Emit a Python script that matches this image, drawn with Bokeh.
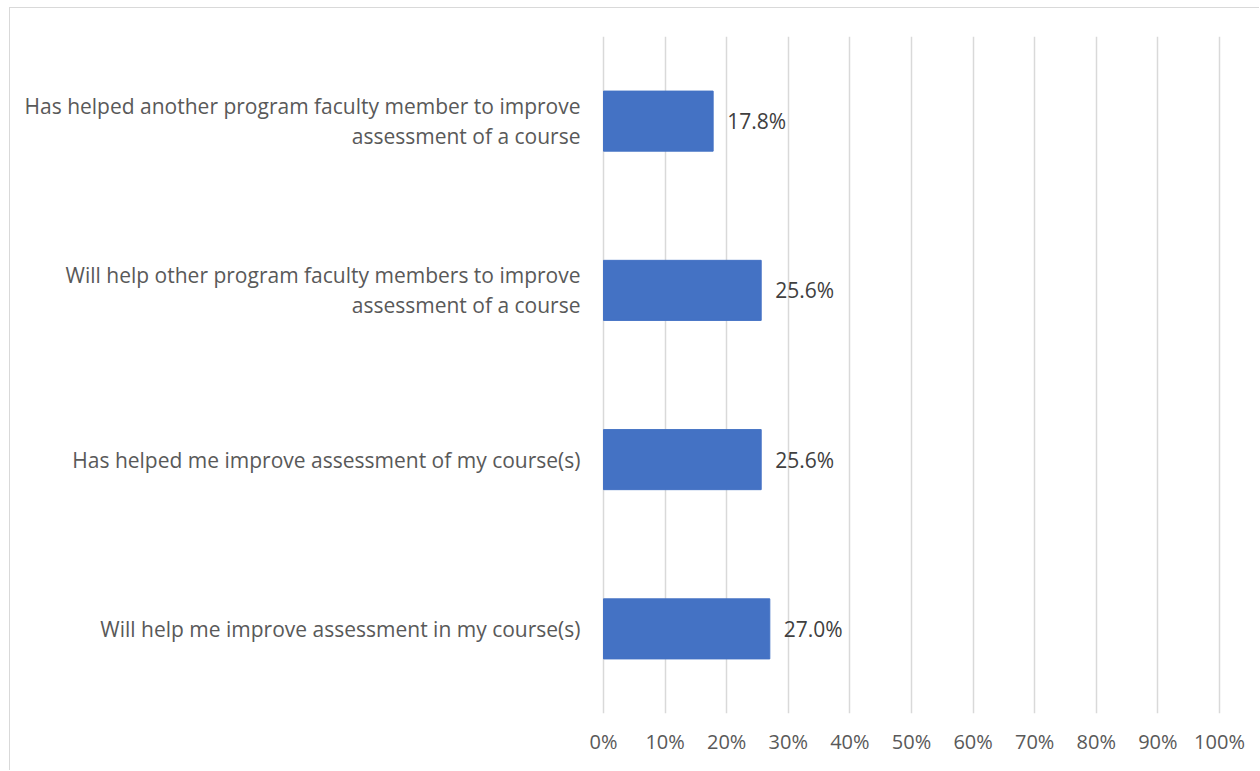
from bokeh.plotting import figure
from bokeh.models import ColumnDataSource, FactorRange, Range1d, FixedTicker, NumeralTickFormatter
from bokeh.embed import file_html
from bokeh.resources import INLINE
from bokeh.core.properties import value

categories = [
    "Has helped another program faculty member to improve\nassessment of a course",
    "Will help other program faculty members to improve\nassessment of a course",
    "Has helped me improve assessment of my course(s)",
    "Will help me improve assessment in my course(s)",
]
shares = [0.178, 0.256, 0.256, 0.270]
share_labels = ["17.8%", "25.6%", "25.6%", "27.0%"]
x_ticks = [0.0, 0.1, 0.2, 0.3, 0.4, 0.5, 0.6, 0.7, 0.8, 0.9, 1.0]

src = ColumnDataSource(dict(cat=categories, share=shares, lab=share_labels,
                            zero=[0.0] * len(categories)))

W, H = 1250, 763
x0_px = 593.0
unit = 616.0
p = figure(width=W, height=H, output_backend="svg", toolbar_location=None,
           y_range=FactorRange(factors=list(reversed(categories)), range_padding=0),
           x_range=Range1d(-x0_px / unit, (W - x0_px) / unit),
           min_border_left=0, min_border_right=0, min_border_top=28, min_border_bottom=58)
p.outline_line_color = None
p.background_fill_color = "white"
p.border_fill_color = "white"
p.styles = {"margin-left": "9px", "margin-top": "7px",
            "border-top": "1px solid #d9d9d9", "border-left": "1px solid #d9d9d9"}

p.yaxis.visible = False
p.ygrid.grid_line_color = None
p.xgrid.grid_line_color = "#d9d9d9"
p.xgrid.grid_line_width = 1.5

ax = p.xaxis[0]
ax.ticker = FixedTicker(ticks=x_ticks)
ax.formatter = NumeralTickFormatter(format="0%")
ax.axis_line_color = None
ax.major_tick_line_color = None
ax.minor_tick_line_color = None
ax.major_label_text_font = "Open Sans"
ax.major_label_text_font_size = "20px"
ax.major_label_text_color = "#595959"
ax.major_label_standoff = 8

p.hbar(y="cat", left="zero", right="share", height=0.355, color="#4472C4", source=src)

p.text(x="zero", y="cat", text="cat", source=src, x_offset=-23,
       text_align="right", text_baseline="middle",
       text_font=value("Open Sans"), text_font_size="21px",
       text_color="#595959", text_line_height=1.07)

p.text(x="share", y="cat", text="lab", source=src, x_offset=14,
       text_align="left", text_baseline="middle",
       text_font=value("Open Sans"), text_font_size="21px",
       text_color="#404040")

open("out.html", "w").write(file_html(p, INLINE))
